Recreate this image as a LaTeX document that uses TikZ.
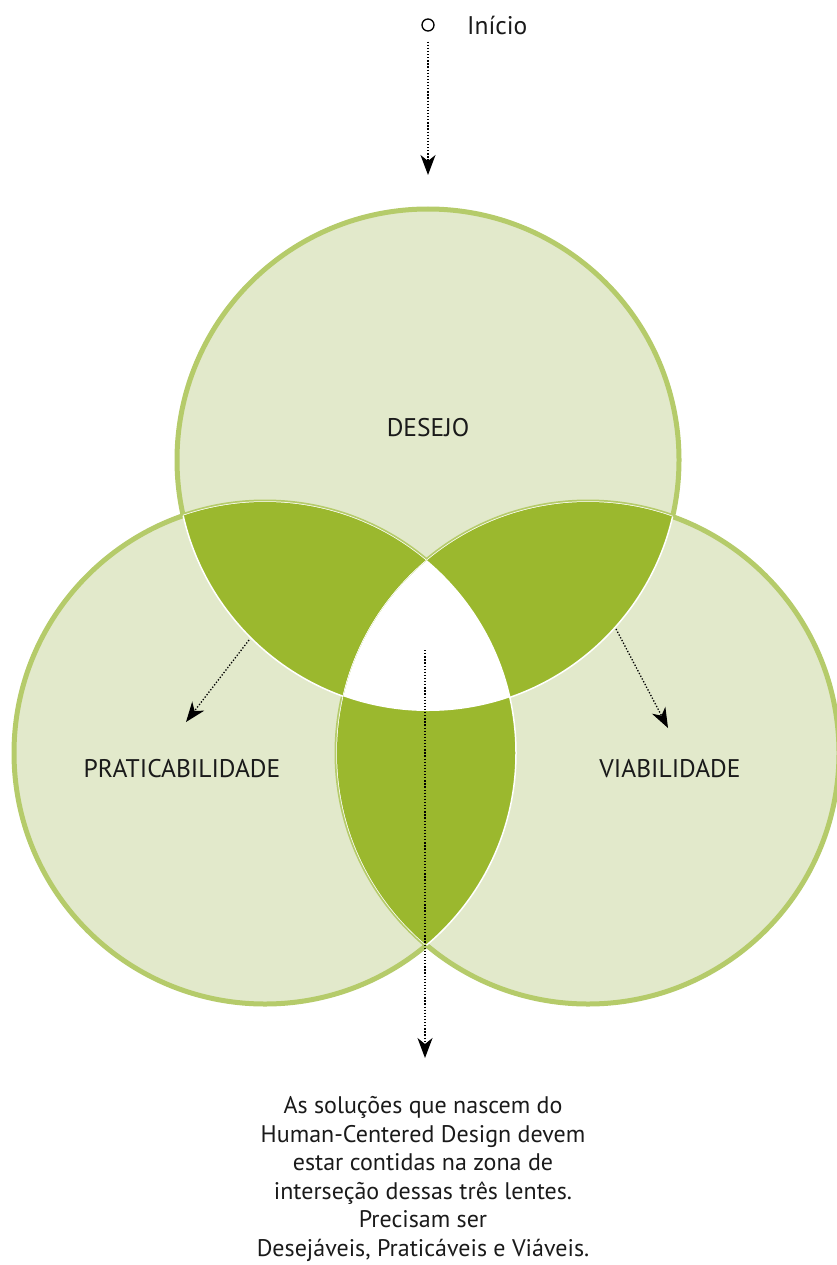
\documentclass[tikz,border=0pt]{standalone}
\usepackage{fontspec}
\setmainfont{PT Sans}
\usetikzlibrary{arrows.meta, positioning}
\definecolor{hcdLight}{HTML}{E2E9CB}
\definecolor{hcdLine}{HTML}{B5CB6A}
\definecolor{hcdDark}{HTML}{9BB82E}
\definecolor{hcdText}{HTML}{1A1A1A}
\tikzset{
  lens/.style     = {fill=hcdLight, draw=hcdLine, line width=5pt},
  overlap/.style  = {fill=hcdDark, draw=white, line width=1.5pt},
  flow/.style     = {-{Stealth[length=20pt, width=15pt, inset=6pt]}, black,
                     line width=1.3pt, dash pattern=on 1.3pt off 1.8pt},
  startdot/.style = {circle, draw=black, line width=1.3pt, minimum size=12pt,
                     inner sep=0pt},
  lbl/.style      = {font=\fontsize{25.5}{30}\selectfont, text=hcdText},
  note/.style     = {font=\fontsize{24}{28.6}\selectfont, text=hcdText, align=center},
}

\begin{document}
\begin{tikzpicture}[x=1pt,y=-1pt]
  \useasboundingbox (0,0) rectangle (836,1265);
  \def\rad{251}
  \coordinate (cD) at (428,460);
  \coordinate (cP) at (265,753);
  \coordinate (cV) at (588,753);
  % the three lenses
  \path[lens] (cD) circle[radius=\rad];
  \path[lens] (cP) circle[radius=\rad];
  \path[lens] (cV) circle[radius=\rad];
  % overlaps of two
  \foreach \a/\b in {cD/cP, cP/cD, cD/cV, cV/cD, cP/cV, cV/cP}{
    \begin{scope}
      \clip (\a) circle[radius=\rad];
      \path[overlap] (\b) circle[radius=\rad];
    \end{scope}
  }
  % overlap of all three
  \begin{scope}
    \clip (cD) circle[radius=\rad];
    \clip (cP) circle[radius=\rad];
    \fill[white] (cV) circle[radius=\rad];
  \end{scope}

  \node[lbl] (desejo)  at (428,428) {DESEJO};
  \node[lbl] (pratica) at (182,769) {PRATICABILIDADE};
  \node[lbl] (viab)    at (670,769) {VIABILIDADE};

  \node[startdot] (startdot) at (428,25) {};
  \node[lbl, right=29pt of startdot] (inicio) {Início};
  \coordinate (topTip) at (428,175);
  \draw[flow, shorten <=10pt] (startdot.south) -- (topTip);

  \coordinate (pStart) at (249,640); \coordinate (pTip) at (186,722);
  \coordinate (vStart) at (616,629); \coordinate (vTip) at (668,728);
  \coordinate (mStart) at (425,650); \coordinate (mTip) at (425,1058);
  \draw[flow] (pStart) -- (pTip);
  \draw[flow] (vStart) -- (vTip);
  \draw[flow] (mStart) -- (mTip);

  \node[note] (nota) at (423,1179) {As soluções que nascem do\\
    Human-Centered Design devem\\estar contidas na zona de\\
    interseção dessas três lentes.\\Precisam ser\\
    Desejáveis, Praticáveis e Viáveis.};
\end{tikzpicture}
\end{document}
